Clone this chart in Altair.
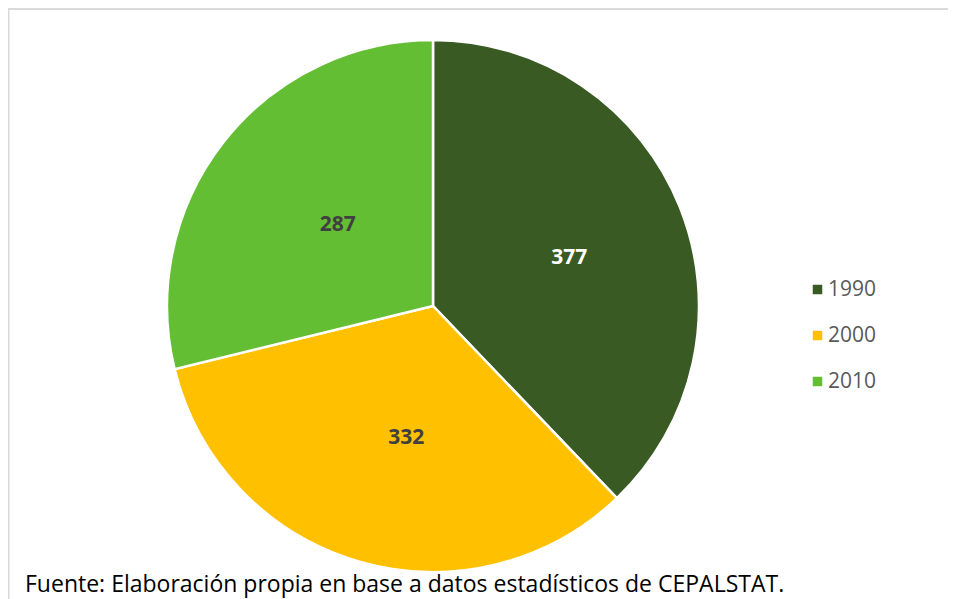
import altair as alt
import pandas as pd

years = ["1990", "2000", "2010"]
values = [377, 332, 287]
colors = ["#3A5A24", "#FFC000", "#63BE33"]
label_colors = ["#FFFFFF", "#404040", "#404040"]
footer = ["Fuente: Elaboración propia en base a datos estadísticos de CEPALSTAT."]

df = pd.DataFrame({"year": years, "value": values, "idx": [0, 1, 2], "lc": label_colors})
fdf = pd.DataFrame({"t": footer})
one = pd.DataFrame({"a": [0]})

W, H = 940, 591
CX, CY = 425, 298

base = alt.Chart(df).encode(
    theta=alt.Theta("value:Q", stack=True),
    order=alt.Order("idx:Q"),
)

arcs = base.mark_arc(outerRadius=266, stroke="white", strokeWidth=2.5).encode(
    color=alt.Color(
        "year:N",
        scale=alt.Scale(domain=years, range=colors),
        legend=alt.Legend(
            title=None,
            orient="none",
            legendX=799,
            legendY=271,
            symbolType="square",
            symbolSize=90,
            symbolStrokeWidth=0,
            labelFontSize=21,
            labelFont="Open Sans",
            labelColor="#595959",
            labelOffset=0,
            rowPadding=24,
        ),
    ),
    x=alt.value(CX),
    y=alt.value(CY),
)

labels = base.mark_text(radius=135, fontSize=21, fontWeight="bold", font="Open Sans", dx=11, dy=2).encode(
    text="value:Q",
    color=alt.Color("lc:N", scale=None),
    x=alt.value(CX),
    y=alt.value(CY),
)

foot = alt.Chart(fdf).mark_text(
    align="left", baseline="alphabetic", fontSize=23, font="Open Sans", color="#000000"
).encode(text="t:N", x=alt.value(17), y=alt.value(584))

top_rule = alt.Chart(one).mark_rule(color="#D9D9D9", strokeWidth=2).encode(
    x=alt.value(0), x2=alt.value(W), y=alt.value(1)
)
left_rule = alt.Chart(one).mark_rule(color="#D9D9D9", strokeWidth=2).encode(
    x=alt.value(0.5), y=alt.value(0), y2=alt.value(H)
)

chart = alt.layer(top_rule, left_rule, arcs, labels, foot).properties(
    width=W,
    height=H,
    padding=0,
    autosize=alt.AutoSizeParams(type="none"),
).configure_view(stroke=None)

chart.save("out.html", embed_options={"renderer": "svg", "actions": False})
